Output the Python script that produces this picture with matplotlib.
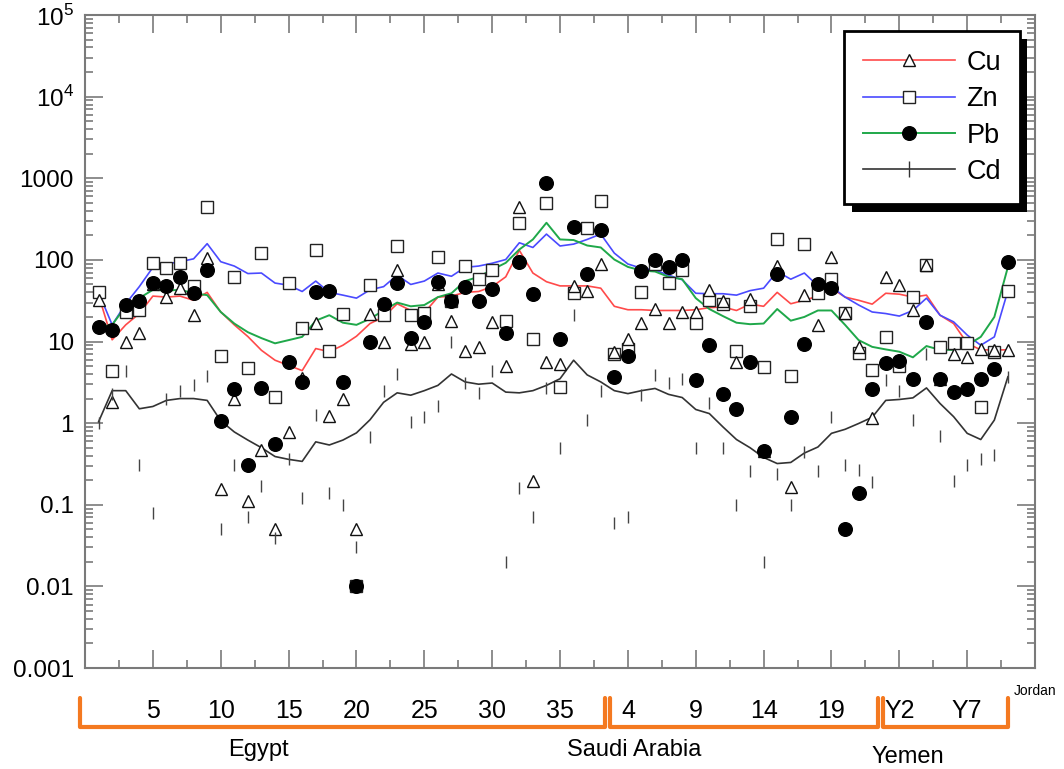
import matplotlib
matplotlib.use('Agg')
import matplotlib.pyplot as plt
import numpy as np
from matplotlib.lines import Line2D
from matplotlib.patches import Rectangle
from matplotlib.ticker import LogLocator, NullFormatter, FixedLocator

plt.rcParams['font.family'] = ['Liberation Sans Narrow', 'Liberation Sans', 'DejaVu Sans']
plt.rcParams['mathtext.fontset'] = 'custom'
plt.rcParams['mathtext.rm'] = 'Liberation Sans'

# sample number along the x axis (Egypt 1-36, Saudi Arabia 1-22, Yemen Y1-Y9, Jordan)
sample = np.arange(1, 69)

# measured values (points)
cu = [32, 1.8, 10, 12.8, 50, 35, 45, 21, 104, 0.158,
      2.0, 0.11, 0.47, 0.05, 0.78, 3.6, 17, 1.22, 1.95, 0.05,
      22, 10, 76, 9.2, 10, 50, 18, 7.6, 8.6, 17.5,
      5.0, 447, 0.196, 5.6, 5.3, 48, 42, 89, 7.5, 10.6,
      17, 25, 17, 23, 23, 43, 31, 5.6, 33, 0.45,
      84, 0.166, 37, 16, 109, 22.5, 8.5, 1.14, 61, 49,
      24, 87, 3.5, 7.1, 6.5, 8.0, 7.9, 7.9]
zn = [40, 4.4, 23, 24, 92, 79, 91, 48, 447, 6.6,
      61, 4.7, 120, 2.1, 52, 14.7, 134, 7.7, 22, 0.01,
      49, 21, 147, 21, 22.5, 109, 31, 84, 59, 75,
      17.8, 285, 10.6, 500, 2.8, 39, 243, 530, 7.0, 8.2,
      40, 90, 52, 75, 17, 32, 29, 7.7, 27, 4.9,
      178, 3.8, 156, 39, 58, 22.5, 7.3, 4.5, 11.4, 5.0,
      35, 87, 8.5, 9.5, 9.6, 1.58, 7.5, 42]
pb = [15, 14, 28, 31.6, 52, 48, 62, 39, 75, 1.06,
      2.6, 0.31, 2.7, 0.56, 5.6, 3.2, 40.6, 42, 3.2, 0.01,
      10, 29, 52, 11, 17.5, 54, 31, 47, 31, 44,
      12.8, 95, 38, 870, 10.6, 250, 68, 235, 3.7, 6.7,
      73, 101, 81, 101, 3.4, 9.0, 2.3, 1.5, 5.6, 0.46,
      68, 1.2, 9.2, 50, 45, 0.05, 0.14, 2.6, 5.5, 5.7,
      3.5, 17.5, 3.5, 2.4, 2.6, 3.5, 4.6, 95]
cd = [1.0, 2.3, 4.4, 0.31, 0.079, 2.0, 2.5, 2.9, 3.8, 0.05,
      0.31, 0.07, 0.17, 0.039, 0.36, 0.12, 1.25, 0.14, 0.10, 0.03,
      0.68, 2.5, 3.95, 1.04, 1.2, 1.6, 10, 3.1, 2.35, 4.3,
      0.02, 0.16, 0.07, 2.7, 0.50, 21, 1.09, 2.5, 0.06, 0.07,
      2.2, 3.9, 3.1, 3.5, 0.50, 1.77, 0.50, 0.10, 0.26, 0.02,
      0.24, 0.10, 0.44, 0.26, 1.2, 0.31, 0.27, 0.19, 3.4, 2.5,
      1.09, 7.1, 0.69, 0.196, 0.31, 0.36, 0.41, 3.7]

# smoothed trend lines
cu_line = [37, 10.5, 16, 22, 36, 35, 36, 32, 40, 23,
           16, 11.5, 7.8, 5.9, 5.1, 4.4, 8.2, 7.5, 9, 11.6,
           16.6, 20, 29, 24, 22.5, 35, 36, 40, 41, 47,
           62, 131, 69, 54, 48, 48, 48, 45, 27, 24.5,
           24.5, 24, 24, 24, 24.5, 26, 26.5, 24, 28.7, 27,
           40, 29, 32, 36, 45, 35, 32, 28.7, 39, 38,
           35, 37, 21, 16.6, 9.5, 7.9, 7.9, 7.9]
zn_line = [40, 16, 29, 47, 81, 89, 95, 103, 158, 95,
           84, 68, 69, 52, 49, 41, 55, 40, 37, 34,
           43, 47, 65, 50, 55, 69, 63, 81, 84, 91,
           101, 162, 142, 207, 148, 156, 178, 207, 121, 89,
           79, 75, 65, 57, 39, 38.5, 38.5, 37, 42, 45,
           72, 58, 69, 48, 47, 35, 28, 23, 22, 20.5,
           24, 34, 21, 17.4, 12, 9, 11.4, 42]
pb_line = [15, 16, 27, 34, 43, 42, 43, 39, 37, 23,
           16.6, 13, 11, 9.5, 10.4, 11.4, 18, 21, 17, 16,
           19, 24, 30, 27, 28, 35, 39, 55, 62, 76,
           92, 134, 178, 285, 178, 175, 150, 142, 101, 82,
           74, 72, 62, 58, 34, 25, 20.5, 17, 16.3, 16.6,
           25, 18, 20, 24, 24, 16, 10.4, 8.6, 8, 7.5,
           6.4, 8.8, 7.9, 7.9, 9, 11.4, 20, 82]
cd_line = [1.04, 2.5, 2.5, 1.5, 1.6, 1.9, 2.0, 2.0, 1.9, 1.07,
           0.78, 0.62, 0.50, 0.39, 0.36, 0.34, 0.59, 0.54, 0.62, 0.76,
           1.1, 1.8, 2.35, 2.2, 2.5, 2.9, 4.0, 3.2, 3.0, 3.1,
           2.4, 2.35, 2.5, 2.9, 3.5, 5.9, 3.9, 3.2, 2.5, 2.3,
           2.5, 2.66, 2.25, 2.06, 1.47, 1.31, 0.90, 0.63, 0.50, 0.38,
           0.32, 0.33, 0.43, 0.51, 0.75, 0.84, 0.99, 1.18, 1.9, 1.95,
           2.04, 2.7, 1.74, 1.2, 0.75, 0.63, 1.09, 3.7]

# x tick labels
tick_pos = [5, 10, 15, 20, 25, 30, 35, 40, 45, 50, 55, 60, 65]
tick_lab = ['5', '10', '15', '20', '25', '30', '35', '4', '9', '14', '19', 'Y2', 'Y7']
ytick_pos = [1e-3, 1e-2, 1e-1, 1, 10, 100, 1000, 1e4, 1e5]
ytick_lab = ['0.001', '0.01', '0.1', '1', '10', '100', '1000', r'10$^4$', r'10$^5$']

# country groups: name, bracket start, bracket end, label x
countries = ['Egypt', 'Saudi Arabia', 'Yemen']
bracket_from = [-0.4, 38.7, 58.8]
bracket_to = [38.3, 58.4, 68.0]
label_x = [12.8, 40.5, 60.6]

fig = plt.figure(figsize=(10.64, 7.69), dpi=100)
ax = fig.add_axes([0.0799, 0.1313, 0.8929, 0.8492])
ax.set_yscale('log')
ax.set_xlim(0, 70)
ax.set_ylim(1e-3, 1e5)

red = '#ff4a4a'
blue = '#4a4aff'
green = '#1fa84a'
dark = '#333333'

ax.plot(sample, cu_line, color=red, lw=1.2, zorder=2)
ax.plot(sample, zn_line, color=blue, lw=1.2, zorder=2)
ax.plot(sample, pb_line, color=green, lw=1.4, zorder=2)
ax.plot(sample, cd_line, color=dark, lw=1.2, zorder=2)

ax.plot(sample, zn, ls='none', marker='s', ms=8, mfc='white', mec='#222222', mew=1.0, zorder=3)
ax.plot(sample, cu, ls='none', marker='^', ms=8.5, mfc='white', mec='#111111', mew=1.0, zorder=4)
ax.plot(sample, pb, ls='none', marker='o', ms=9.8, mfc='black', mec='black', zorder=5)
ax.plot(sample, cd, ls='none', marker='|', ms=8, mec='#444444', mew=1.0, zorder=6)

for s in ax.spines.values():
    s.set_color('#7a7a7a')
    s.set_linewidth(1.5)

ax.set_yticks(ytick_pos)
ax.set_yticklabels(ytick_lab, fontsize=17.5)
ax.yaxis.set_minor_locator(LogLocator(base=10, subs=np.arange(2, 10), numticks=20))
ax.yaxis.set_minor_formatter(NullFormatter())
ax.set_xticks(tick_pos)
ax.set_xticklabels(tick_lab, fontsize=18)
ax.xaxis.set_minor_locator(FixedLocator(np.arange(2.5, 70, 5)))
ax.tick_params(which='both', direction='in', top=True, right=True, color='#7a7a7a', width=1.2)
ax.tick_params(which='major', length=13)
ax.tick_params(which='minor', length=6)
ax.tick_params(axis='x', which='major', pad=22)
ax.tick_params(axis='y', which='major', pad=8)

# orange brackets under the axis
orange = '#f47920'
bt = ax.get_xaxis_transform()
for a, b in zip(bracket_from, bracket_to):
    ax.plot([a, a, b, b], [-0.046, -0.09, -0.09, -0.046], color=orange, lw=3,
            transform=bt, clip_on=False, solid_joinstyle='round', solid_capstyle='round')
for name, lx in zip(countries, label_x):
    dy = -0.125 if name != 'Yemen' else -0.136
    ax.text(lx, dy, name, transform=bt, ha='center', va='center', fontsize=17)
ax.text(70, -0.035, 'Jordan', transform=bt, ha='center', va='center', fontsize=10)

handles = [
    Line2D([], [], color=red, lw=1.2, marker='^', ms=8.5, mfc='white', mec='#111111'),
    Line2D([], [], color=blue, lw=1.2, marker='s', ms=8, mfc='white', mec='#222222'),
    Line2D([], [], color=green, lw=1.4, marker='o', ms=9.8, mfc='black', mec='black'),
    Line2D([], [], color=dark, lw=1.2, marker='|', ms=11, mec=dark),
]
leg = ax.legend(handles, ['Cu', 'Zn', 'Pb', 'Cd'], loc='upper right',
                bbox_to_anchor=(0.984, 0.9755), borderaxespad=0, fancybox=False,
                framealpha=1, facecolor='white',
                numpoints=1, handlelength=3.4, handletextpad=0.4, borderpad=0.7,
                labelspacing=0.38, prop={'family': ['Liberation Sans', 'DejaVu Sans'], 'size': 19.5})
leg.get_frame().set_edgecolor('black')
leg.get_frame().set_linewidth(2)
leg.set_zorder(10)

fig.canvas.draw()
bb = leg.get_frame().get_window_extent().transformed(ax.transAxes.inverted())
shadow = Rectangle((bb.x0 + 0.008, bb.y0 - 0.012), bb.width, bb.height, transform=ax.transAxes,
                   facecolor='black', edgecolor='none', zorder=9, clip_on=False)
ax.add_patch(shadow)

fig.savefig('out.png', dpi=100)
